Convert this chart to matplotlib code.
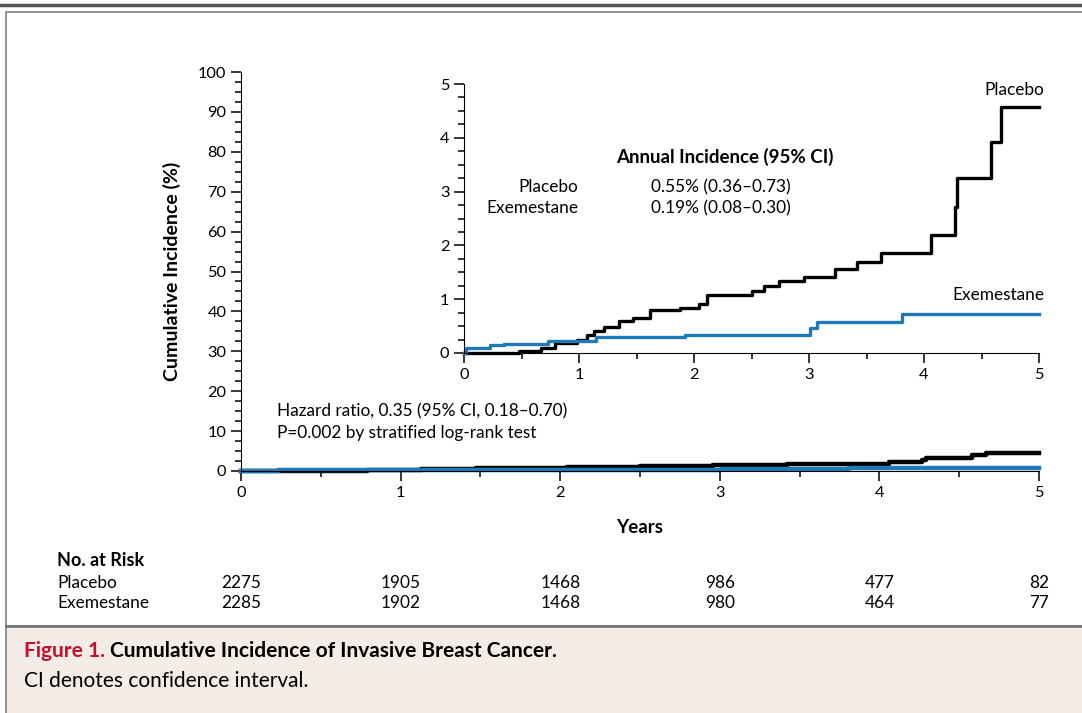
import matplotlib.pyplot as plt
from matplotlib.patches import Rectangle
from matplotlib.ticker import MultipleLocator

plt.rcParams['font.family'] = ['Lato', 'DejaVu Sans']

# cumulative incidence (%)
placebo_t = [0, 0.48, 0.67, 0.79, 0.98, 1.07, 1.13, 1.22, 1.35, 1.47, 1.62, 1.88,
             2.04, 2.11, 2.50, 2.61, 2.74, 2.96, 3.23, 3.42, 3.63, 4.06, 4.27,
             4.29, 4.58, 4.67, 5.0]
placebo_y = [0, 0.03, 0.10, 0.185, 0.25, 0.34, 0.41, 0.475, 0.59, 0.65, 0.79, 0.83,
             0.92, 1.08, 1.15, 1.25, 1.33, 1.41, 1.56, 1.70, 1.85, 2.19, 2.72,
             3.26, 3.92, 4.57, 4.57]
exem_t = [0, 0.02, 0.23, 0.35, 0.73, 1.15, 1.92, 3.01, 3.07, 3.81, 5.0]
exem_y = [0, 0.09, 0.14, 0.17, 0.23, 0.29, 0.34, 0.46, 0.57, 0.73, 0.73]

risk_years = [0, 1, 2, 3, 4, 5]
risk_placebo = [2275, 1905, 1468, 986, 477, 82]
risk_exem = [2285, 1902, 1468, 980, 464, 77]

BLUE = '#1f78b8'
W, H = 1082, 713


def fx(px):
    return px / W


def fy(py):
    return 1 - py / H


fig = plt.figure(figsize=(W / 100, H / 100), dpi=100)

# frame and caption box (behind the axes)
fig.add_artist(plt.Line2D([0, 1], [fy(5), fy(5)], color='#555555', lw=2.5, zorder=-5))
fig.add_artist(Rectangle((fx(6), fy(626)), 1.0, fy(12) - fy(626),
                         facecolor='white', edgecolor='#8a8a8a', lw=1.3, zorder=-5))
fig.add_artist(Rectangle((fx(6), -0.01), 1.0, fy(626) + 0.01, facecolor='#f3ece7',
                         edgecolor='#8a8a8a', lw=1.3, zorder=-5))
fig.add_artist(plt.Line2D([fx(6), 1], [fy(626), fy(626)], color='#777777', lw=2,
                          zorder=-4))


def style_axes(ax, ymaj, ymin):
    for s in ['top', 'right']:
        ax.spines[s].set_visible(False)
    ax.set_xlim(0, 5)
    ax.xaxis.set_major_locator(MultipleLocator(1))
    ax.xaxis.set_minor_locator(MultipleLocator(0.5))
    ax.yaxis.set_major_locator(MultipleLocator(ymaj))
    ax.yaxis.set_minor_locator(MultipleLocator(ymin))
    ax.tick_params(which='major', direction='out', length=7, width=1.1, labelsize=11.8)
    ax.tick_params(which='minor', direction='out', length=4.5, width=1.1)
    ax.patch.set_visible(False)


# main axes
ax = fig.add_axes([fx(241), fy(471), fx(1039 - 241), (471 - 72) / H])
style_axes(ax, 10, 2.5)
ax.set_ylim(0, 100)
ax.step(placebo_t, placebo_y, where='post', color='black', lw=3.2, clip_on=False)
ax.step(exem_t, exem_y, where='post', color=BLUE, lw=3.2, clip_on=False)
ax.set_xlabel('Years', fontsize=13.5, fontweight='bold', labelpad=14)
ax.set_ylabel('Cumulative Incidence (%)', fontsize=14, fontweight='bold', labelpad=12)

# inset
ins = fig.add_axes([fx(464), fy(353), fx(1039 - 464), (353 - 84) / H])
style_axes(ins, 1, 0.25)
ins.set_ylim(0, 5)
ins.step(placebo_t, placebo_y, where='post', color='black', lw=2.4, clip_on=False)
ins.step(exem_t, exem_y, where='post', color=BLUE, lw=2.4, clip_on=False)

fs = 12.4
fig.text(fx(1044), fy(90), 'Placebo', ha='right', va='center', fontsize=fs)
fig.text(fx(1044), fy(295), 'Exemestane', ha='right', va='center', fontsize=fs)
fig.text(fx(725), fy(157), 'Annual Incidence (95% CI)', ha='center', va='center',
         fontsize=13.5, fontweight='bold')
fig.text(fx(578), fy(187), 'Placebo', ha='right', va='center', fontsize=fs)
fig.text(fx(578), fy(208), 'Exemestane', ha='right', va='center', fontsize=fs)
fig.text(fx(651), fy(187), '0.55% (0.36\u20130.73)', ha='left', va='center', fontsize=fs)
fig.text(fx(651), fy(208), '0.19% (0.08\u20130.30)', ha='left', va='center', fontsize=fs)

fig.text(fx(277), fy(411), 'Hazard ratio, 0.35 (95% CI, 0.18\u20130.70)', ha='left',
         va='center', fontsize=fs)
fig.text(fx(277), fy(433), 'P=0.002 by stratified log-rank test', ha='left',
         va='center', fontsize=fs)

# number at risk table
fig.text(fx(57), fy(561), 'No. at Risk', ha='left', va='center', fontsize=13,
         fontweight='bold')
fig.text(fx(57), fy(583), 'Placebo', ha='left', va='center', fontsize=fs)
fig.text(fx(57), fy(603), 'Exemestane', ha='left', va='center', fontsize=fs)
for yr, a, b in zip(risk_years, risk_placebo, risk_exem):
    xpix = ax.transData.transform((yr, 0))[0]
    fig.text(xpix / W, fy(583), str(a), ha='center', va='center', fontsize=fs)
    fig.text(xpix / W, fy(603), str(b), ha='center', va='center', fontsize=fs)

# caption
t = fig.text(fx(24), fy(651), 'Figure 1. ', ha='left', va='center', fontsize=15,
             fontweight='bold', color='#c8102e')
fig.canvas.draw()
bb = t.get_window_extent()
fig.text(bb.x1 / W, fy(651), 'Cumulative Incidence of Invasive Breast Cancer.',
         ha='left', va='center', fontsize=15, fontweight='bold')
fig.text(fx(24), fy(681), 'CI denotes confidence interval.', ha='left', va='center',
         fontsize=15)

fig.savefig('out.png', dpi=100)
